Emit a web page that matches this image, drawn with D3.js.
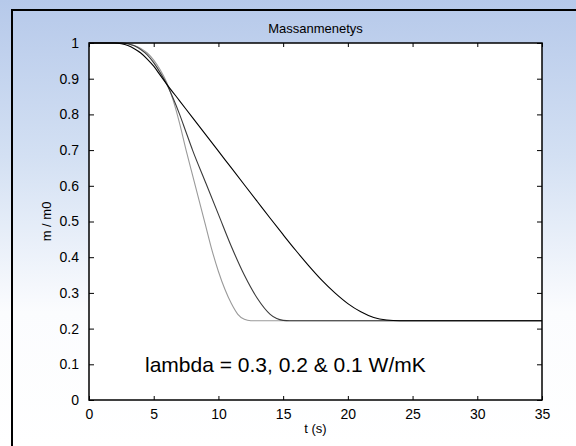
<!DOCTYPE html>
<html>
<head>
<meta charset="utf-8">
<script src="https://cdn.jsdelivr.net/npm/d3@7"></script>
<style>
  body { margin: 0; }
  text { font-family: "Liberation Sans", Arial, sans-serif; }
</style>
</head>
<body>
<svg id="chart"></svg>
<script>
// mass ratio m/m0 over time, one series per lambda
const tFast = [0, 2.5, 3, 3.5, 4, 4.5, 5, 5.5, 6, 6.5, 7, 7.5, 8, 8.5, 9, 9.5, 10, 10.5, 11, 11.5, 12, 12.5, 35];
const mFast = [1, 1, 0.998, 0.993, 0.985, 0.972, 0.952, 0.925, 0.89, 0.84, 0.775, 0.70, 0.63, 0.56, 0.49, 0.42, 0.36, 0.31, 0.27, 0.24, 0.226, 0.222, 0.222];

const tMid = [0, 2.5, 3, 3.5, 4, 4.5, 5, 5.5, 6, 6.5, 7, 7.5, 8, 9, 10, 11, 12, 13, 14, 14.5, 15, 15.5, 35];
const mMid = [1, 1, 0.998, 0.992, 0.982, 0.967, 0.945, 0.917, 0.885, 0.845, 0.80, 0.75, 0.70, 0.61, 0.52, 0.43, 0.35, 0.285, 0.24, 0.228, 0.223, 0.222, 0.222];

const tSlow = [0, 2, 2.5, 3, 3.5, 4, 4.5, 5, 5.5, 6, 7, 8, 9, 10, 11, 12, 13, 14, 15, 16, 17, 18, 19, 20, 21, 22, 23, 24, 35];
const mSlow = [1, 1, 0.998, 0.993, 0.984, 0.972, 0.955, 0.935, 0.91, 0.885, 0.838, 0.791, 0.744, 0.697, 0.65, 0.603, 0.556, 0.509, 0.463, 0.418, 0.375, 0.335, 0.30, 0.27, 0.247, 0.231, 0.224, 0.222, 0.222];

const xTicks = [0, 5, 10, 15, 20, 25, 30, 35];
const yTicks = [0, 0.1, 0.2, 0.3, 0.4, 0.5, 0.6, 0.7, 0.8, 0.9, 1];

const series = [
  { t: tFast, m: mFast, color: "#9a9a9a" },
  { t: tMid, m: mMid, color: "#3a3a3a" },
  { t: tSlow, m: mSlow, color: "#000000" }
];

const width = 576;
const height = 446;
const margin = { top: 43, right: 34, bottom: 46, left: 89 };

const svg = d3.select("#chart").attr("width", width).attr("height", height);

// background gradient
const grad = svg.append("defs").append("linearGradient")
  .attr("id", "bg").attr("x1", 0).attr("y1", 0).attr("x2", 0).attr("y2", 1);
grad.append("stop").attr("offset", "0%").attr("stop-color", "#b6c9ea");
grad.append("stop").attr("offset", "35%").attr("stop-color", "#d3e0f3");
grad.append("stop").attr("offset", "70%").attr("stop-color", "#fbfcfe");
grad.append("stop").attr("offset", "100%").attr("stop-color", "#ffffff");
svg.append("rect").attr("width", width).attr("height", height).attr("fill", "url(#bg)");

// figure frame
svg.append("path")
  .attr("d", `M12,${height} V10 H${width}`)
  .attr("fill", "none").attr("stroke", "#000").attr("stroke-width", 2);

const x = d3.scaleLinear().domain([0, 35]).range([margin.left, width - margin.right]);
const y = d3.scaleLinear().domain([0, 1]).range([height - margin.bottom, margin.top]);

svg.append("rect")
  .attr("x", x(0)).attr("y", y(1))
  .attr("width", x(35) - x(0)).attr("height", y(0) - y(1))
  .attr("fill", "#fff");

const line = d3.line().curve(d3.curveMonotoneX);

svg.append("g")
  .selectAll("path")
  .data(series)
  .join("path")
  .attr("d", (s) => line(s.t.map((t, i) => [x(t), y(s.m[i])])))
  .attr("fill", "none")
  .attr("stroke", (s) => s.color)
  .attr("stroke-width", 1.1);

// axes, matlab style with inward ticks on all sides
const fmt = (d) => d3.format("~g")(d);
const styleAxis = (g) => {
  g.select(".domain").remove();
  g.selectAll("line").attr("stroke", "#000");
  g.selectAll("text").attr("fill", "#000").attr("font-size", 14);
};

svg.append("g")
  .attr("transform", `translate(0,${y(0)})`)
  .call(d3.axisBottom(x).tickValues(xTicks).tickSizeInner(-4).tickPadding(9).tickFormat(fmt))
  .call(styleAxis);
svg.append("g")
  .attr("transform", `translate(0,${y(1)})`)
  .call(d3.axisTop(x).tickValues(xTicks).tickSizeInner(-4).tickFormat(""))
  .call(styleAxis);
svg.append("g")
  .attr("transform", `translate(${x(0)},0)`)
  .call(d3.axisLeft(y).tickValues(yTicks).tickSizeInner(-5).tickPadding(10).tickFormat(fmt))
  .call(styleAxis);
svg.append("g")
  .attr("transform", `translate(${x(35)},0)`)
  .call(d3.axisRight(y).tickValues(yTicks).tickSizeInner(-5).tickFormat(""))
  .call(styleAxis);

svg.append("rect")
  .attr("x", x(0)).attr("y", y(1))
  .attr("width", x(35) - x(0)).attr("height", y(0) - y(1))
  .attr("fill", "none").attr("stroke", "#000").attr("stroke-width", 1.5);

svg.append("text")
  .attr("x", (x(0) + x(35)) / 2).attr("y", 33)
  .attr("text-anchor", "middle").attr("font-size", 13)
  .text("Massanmenetys");

svg.append("text")
  .attr("x", (x(0) + x(35)) / 2).attr("y", 433)
  .attr("text-anchor", "middle").attr("font-size", 13)
  .text("t (s)");

svg.append("text")
  .attr("transform", `translate(51,${(y(0) + y(1)) / 2}) rotate(-90)`)
  .attr("text-anchor", "middle").attr("font-size", 13)
  .text("m / m0");

svg.append("text")
  .attr("x", 145).attr("y", 372)
  .attr("font-size", 21)
  .text("lambda = 0.3, 0.2 & 0.1 W/mK");
</script>
</body>
</html>
